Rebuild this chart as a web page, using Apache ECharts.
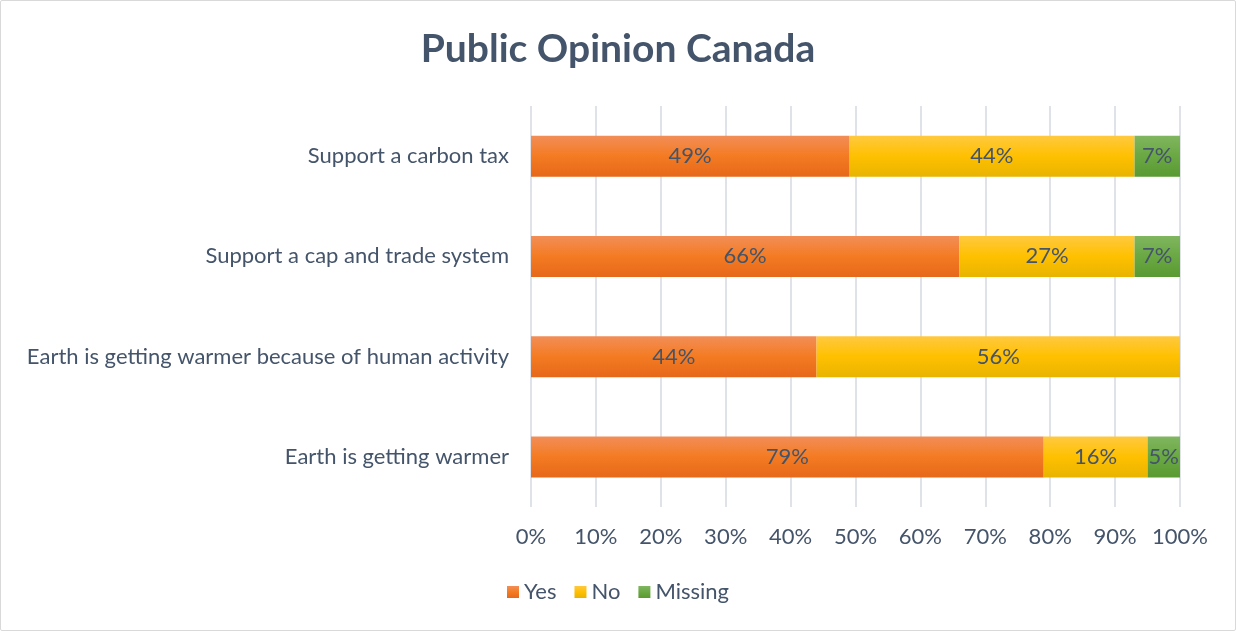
<!DOCTYPE html>
<html>
<head>
<meta charset="utf-8">
<script src="https://cdn.jsdelivr.net/npm/echarts@6/dist/echarts.min.js"></script>
<style>
  html, body { margin: 0; padding: 0; background: #fff; }
  #chart { width: 1234px; height: 629px; border: 1px solid #d9d9d9; border-radius: 2px; }
</style>
</head>
<body>
<div id="chart"></div>
<script>
// Survey questions, listed bottom to top as the category axis draws them
const categories = [
  'Earth is getting warmer',
  'Earth is getting warmer because of human activity',
  'Support a cap and trade system',
  'Support a carbon tax'
];
const yesValues = [79, 44, 66, 49];
const noValues = [16, 56, 27, 44];
const missingValues = [5, 0, 7, 7];
const xTicks = [0, 10, 20, 30, 40, 50, 60, 70, 80, 90, 100];

const FONT = 'Lato, "Open Sans", sans-serif';
const TEXT = '#44546A';
const SIZE = 22;

function grad(top, mid, bottom) {
  return new echarts.graphic.LinearGradient(0, 0, 0, 1, [
    { offset: 0, color: top },
    { offset: 0.5, color: mid },
    { offset: 1, color: bottom }
  ]);
}

function series(name, values, color) {
  return {
    name: name,
    type: 'bar',
    stack: 'total',
    barWidth: 41,
    data: values,
    itemStyle: { color: color },
    label: {
      show: true,
      position: 'inside',
      color: TEXT,
      fontFamily: FONT,
      fontSize: SIZE,
      formatter: p => (p.value > 0 ? p.value + '%' : '')
    }
  };
}

const chart = echarts.init(document.getElementById('chart'));
chart.setOption({
  animation: false,
  textStyle: { fontFamily: FONT },
  title: {
    text: 'Public Opinion Canada',
    left: 'center',
    top: 24,
    textStyle: { color: TEXT, fontFamily: FONT, fontWeight: 'bold', fontSize: 39 }
  },
  legend: {
    bottom: 22,
    left: 'center',
    itemWidth: 12,
    itemHeight: 12,
    itemGap: 18,
    icon: 'rect',
    textStyle: { color: TEXT, fontSize: SIZE, fontFamily: FONT },
    data: ['Yes', 'No', 'Missing']
  },
  grid: { left: 530, right: 55, top: 105, bottom: 123 },
  xAxis: {
    type: 'value',
    min: 0,
    max: 100,
    interval: 10,
    axisLine: { show: false },
    axisTick: { show: false },
    splitLine: { lineStyle: { color: '#dfe2e8', width: 2 } },
    axisLabel: {
      color: TEXT,
      fontSize: SIZE,
      fontFamily: FONT,
      margin: 19,
      formatter: v => (xTicks.includes(v) ? v + '%' : '')
    }
  },
  yAxis: {
    type: 'category',
    data: categories,
    axisLine: { show: false },
    axisTick: { show: false },
    axisLabel: { color: TEXT, fontSize: SIZE, fontFamily: FONT, margin: 22 }
  },
  series: [
    series('Yes', yesValues, grad('#F28E58', '#F47B22', '#E6681A')),
    series('No', noValues, grad('#FFC940', '#FFC000', '#E8B400')),
    series('Missing', missingValues, grad('#80B660', '#6AA843', '#5A9A32'))
  ]
});
</script>
</body>
</html>
